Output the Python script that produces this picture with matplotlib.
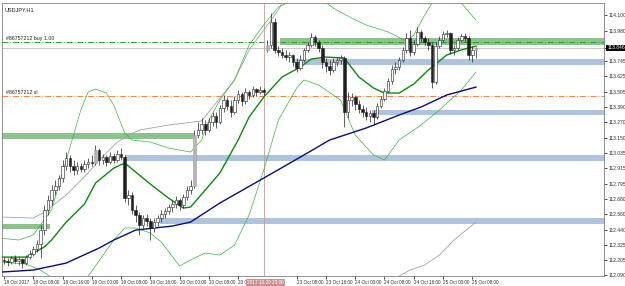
import numpy as np
import matplotlib
matplotlib.use('Agg')
import matplotlib.pyplot as plt

plt.rcParams['font.family'] = ['Liberation Sans Narrow', 'Liberation Sans', 'DejaVu Sans']

# hourly bars, 18 Oct 00:00 .. 25 Oct 09:00 (weekend skipped)
opens = [112.206,112.199,112.191,112.222,112.199,112.214,112.183,112.229,112.253,112.291,
         112.330,112.438,112.593,112.670,112.747,112.778,112.840,112.933,112.995,112.933,
         112.902,112.933,112.910,112.948,112.964,112.956,113.057,112.979,113.002,112.964,
         113.010,112.979,113.026,113.002,112.685,112.709,112.593,112.554,112.477,112.531,
         112.508,112.454,112.500,112.531,112.562,112.585,112.616,112.639,112.670,112.631,
         112.693,112.747,112.778,113.172,113.211,113.258,113.211,113.273,113.319,113.273,
         113.381,113.443,113.397,113.350,113.443,113.489,113.435,113.505,113.482,113.528,
         113.505,113.520,113.830,113.868,114.046,113.830,113.814,113.791,113.775,113.791,
         113.737,113.690,113.752,113.830,113.868,113.930,113.891,113.845,113.737,113.706,
         113.675,113.737,113.752,113.768,113.350,113.443,113.466,113.412,113.373,113.350,
         113.319,113.343,113.312,113.397,113.451,113.513,113.590,113.683,113.698,113.752,
         113.830,113.922,113.814,113.876,113.969,113.922,113.891,113.868,113.582,113.860,
         113.907,113.953,113.961,113.830,113.845,113.907,113.938,113.922,113.791,113.830]
highs = [112.229,112.222,112.237,112.245,112.229,112.222,112.245,112.284,112.314,112.361,
         112.477,112.631,112.709,112.786,112.825,112.863,112.979,113.041,113.018,112.979,
         112.964,112.956,112.979,112.995,113.018,113.095,113.072,113.026,113.018,113.041,
         113.033,113.057,113.072,113.018,112.747,112.732,112.631,112.577,112.554,112.562,
         112.531,112.531,112.554,112.593,112.608,112.639,112.670,112.701,112.685,112.716,
         112.778,112.825,113.211,113.273,113.304,113.288,113.304,113.350,113.350,113.404,
         113.482,113.466,113.443,113.474,113.520,113.505,113.536,113.520,113.551,113.536,
         113.551,113.536,113.907,114.116,114.077,113.860,113.845,113.830,113.814,113.799,
         113.768,113.791,113.845,113.891,113.961,113.945,113.907,113.868,113.768,113.752,
         113.768,113.775,113.791,113.783,113.505,113.497,113.482,113.443,113.404,113.389,
         113.366,113.366,113.420,113.474,113.536,113.613,113.714,113.737,113.775,113.853,
         113.961,113.984,113.907,114.007,113.984,113.938,113.922,113.891,113.891,113.938,
         113.976,113.984,113.969,113.868,113.930,113.953,113.961,113.938,113.860,113.853]
lows = [112.175,112.160,112.175,112.183,112.168,112.144,112.168,112.214,112.237,112.268,
        112.222,112.400,112.554,112.631,112.709,112.747,112.809,112.902,112.886,112.863,
        112.871,112.886,112.886,112.917,112.933,112.941,112.941,112.948,112.933,112.948,
        112.956,112.964,112.979,112.655,112.631,112.562,112.500,112.400,112.454,112.469,
        112.361,112.423,112.469,112.500,112.531,112.562,112.577,112.608,112.593,112.608,
        112.670,112.716,112.763,113.149,113.180,113.172,113.196,113.242,113.227,113.258,
        113.350,113.366,113.312,113.335,113.420,113.397,113.412,113.451,113.466,113.474,
        113.489,113.482,113.814,113.845,113.806,113.783,113.768,113.752,113.737,113.706,
        113.659,113.675,113.737,113.814,113.853,113.860,113.814,113.690,113.659,113.636,
        113.659,113.706,113.721,113.234,113.304,113.397,113.366,113.343,113.312,113.288,
        113.273,113.250,113.296,113.381,113.435,113.497,113.567,113.644,113.675,113.737,
        113.806,113.783,113.791,113.860,113.891,113.868,113.830,113.536,113.567,113.845,
        113.891,113.930,113.799,113.791,113.830,113.891,113.891,113.752,113.737,113.768]
closes = [112.199,112.191,112.222,112.199,112.214,112.183,112.229,112.253,112.291,112.330,
          112.438,112.593,112.670,112.747,112.778,112.840,112.933,112.995,112.933,112.902,
          112.933,112.910,112.948,112.964,112.956,113.057,112.979,113.002,112.964,113.010,
          112.979,113.026,113.002,112.685,112.709,112.593,112.554,112.477,112.531,112.508,
          112.454,112.500,112.531,112.562,112.585,112.616,112.639,112.670,112.631,112.693,
          112.747,112.778,113.172,113.211,113.258,113.211,113.273,113.319,113.273,113.381,
          113.443,113.397,113.350,113.443,113.489,113.435,113.505,113.482,113.528,113.505,
          113.520,113.505,113.868,114.046,113.830,113.814,113.791,113.775,113.791,113.737,
          113.690,113.752,113.830,113.868,113.930,113.891,113.845,113.737,113.706,113.675,
          113.737,113.752,113.768,113.350,113.443,113.466,113.412,113.373,113.350,113.319,
          113.343,113.312,113.397,113.451,113.513,113.590,113.683,113.698,113.752,113.830,
          113.922,113.814,113.876,113.969,113.922,113.891,113.868,113.582,113.860,113.907,
          113.953,113.961,113.830,113.845,113.907,113.938,113.922,113.791,113.830,113.846]
gray_bars = [25, 52, 72, 129]

# indicator lines (bar index, price)
ma_slow_idx = [-1, 8, 17, 26, 30, 36, 46, 51, 59, 71, 81, 89, 99, 108, 114, 121, 129]
ma_slow_val = [112.113, 112.129, 112.183, 112.299, 112.361, 112.438, 112.469, 112.500, 112.647,
               112.840, 113.002, 113.134, 113.227, 113.327, 113.389, 113.482, 113.543]
bb_mid_idx = [-1, 6, 8, 11, 13, 17, 22, 25, 30, 33, 37, 41, 45, 49, 51, 55, 59, 64, 67, 71,
              76, 81, 84, 88, 93, 97, 101, 104, 108, 112, 116, 121, 125, 129]
bb_mid_val = [112.229, 112.229, 112.260, 112.307, 112.361, 112.500, 112.639, 112.801, 112.917,
              112.956, 112.863, 112.771, 112.685, 112.608, 112.616, 112.747, 112.879, 113.134,
              113.312, 113.466, 113.621, 113.698, 113.760, 113.775, 113.768, 113.621, 113.536,
              113.497, 113.497, 113.567, 113.675, 113.791, 113.830, 113.860]
bb_up_idx = [-1, 4, 8, 13, 17, 21, 23, 25, 28, 30, 33, 35, 40, 45, 51, 54, 56, 59, 63, 67, 71,
             75, 78, 81, 86, 90, 95, 99, 105, 110, 112, 115, 117, 121, 125, 129]
bb_up_val = [112.376, 112.361, 112.400, 112.593, 112.979, 113.366, 113.505, 113.528, 113.497,
             113.404, 113.188, 113.134, 113.118, 113.072, 113.041, 113.134, 113.288, 113.443,
             113.598, 113.868, 114.023, 114.162, 114.201, 114.239, 114.239, 114.154, 114.077,
             114.023, 113.969, 113.899, 113.945, 114.100, 114.193, 114.216, 114.193, 114.061]
bb_lo_idx = [-1, 6, 10, 14, 19, 23, 30, 33, 36, 40, 43, 48, 52, 55, 59, 63, 67, 71, 75, 80,
             82, 86, 92, 96, 101, 104, 108, 114, 119, 125, 129]
bb_lo_val = [112.191, 112.175, 112.129, 112.052, 112.013, 112.082, 112.361, 112.454, 112.454,
             112.415, 112.345, 112.160, 112.222, 112.260, 112.245, 112.322, 112.554, 112.902,
             113.288, 113.536, 113.598, 113.559, 113.443, 113.172, 113.018, 112.979, 113.134,
             113.250, 113.366, 113.520, 113.659]
gray_up_idx = [-1, 8, 11, 17, 23, 26, 31, 34, 37, 45, 54, 63, 67, 71, 75, 78]
gray_up_val = [112.539, 112.531, 112.577, 112.709, 112.879, 112.979, 113.118, 113.172, 113.211,
               113.250, 113.281, 113.598, 113.830, 113.984, 114.139, 114.293]
gray_lo_idx = [107, 111, 115, 119, 123, 129]
gray_lo_val = [112.067, 112.129, 112.168, 112.245, 112.361, 112.500]

# zones: (low, high, from bar, to bar, kind)
zone_lo = [113.868, 113.714, 113.327, 113.141, 112.971, 112.484, 112.446]
zone_hi = [113.922, 113.760, 113.366, 113.188, 113.018, 112.531, 112.484]
zone_from = [75.4, 79.5, 100.5, -1, 33, 42.6, -1]
zone_to = [170, 170, 170, 52, 170, 170, 12.6]
zone_kind = ['g', 'b', 'b', 'g', 'b', 'b', 'g']

buy_price = 113.891
sl_price = 113.474
bid = 113.846
sep_bar = 71

ytick_vals = [114.100, 113.980, 113.846, 113.745, 113.625, 113.505, 113.390, 113.270, 113.150,
              113.035, 112.915, 112.795, 112.680, 112.560, 112.440, 112.325, 112.205, 112.090]
xtick_idx = [0, 8, 16, 24, 32, 40, 48, 56, 64, 80, 88, 96, 104, 112, 120, 128]
xtick_lab = ['18 Oct 2017', '18 Oct 08:00', '18 Oct 16:00', '19 Oct 00:00', '19 Oct 08:00',
             '19 Oct 16:00', '20 Oct 00:00', '20 Oct 08:00', '20 Oct 16:00',
             '23 Oct 08:00', '23 Oct 16:00', '24 Oct 00:00', '24 Oct 08:00', '24 Oct 16:00',
             '25 Oct 00:00', '25 Oct 08:00']

fig = plt.figure(figsize=(6.25, 2.86), dpi=100)
ax = fig.add_axes([2/625., 10/286., 602/625., 273/286.])
xmin, xmax = -0.55, 164.0
ax.set_xlim(xmin, xmax)
ax.set_ylim(112.083, 114.193)

zcol = {'g': '#8cc28c', 'b': '#aec3de'}
for lo, hi, a, b, k in zip(zone_lo, zone_hi, zone_from, zone_to, zone_kind):
    ax.fill_between([a, b], lo, hi, color=zcol[k], lw=0, zorder=1)

ax.axhline(buy_price, color='#2ca02c', lw=0.7, ls=(0, (6, 2, 1, 2)), zorder=2)
ax.axhline(sl_price, color='#ff7f3f', lw=0.7, ls=(0, (6, 2, 1, 2)), zorder=2)
ax.axhline(bid, color='#c0c0c0', lw=0.6, zorder=2)
ax.axvline(sep_bar, color='#d89090', lw=0.6, zorder=2)

ax.plot(gray_up_idx, gray_up_val, color='#9aa5a0', lw=0.6, zorder=3)
ax.plot(gray_lo_idx, gray_lo_val, color='#9aa5a0', lw=0.6, zorder=3)
ax.plot(bb_up_idx, bb_up_val, color='#3cb43c', lw=0.5, zorder=3)
ax.plot(bb_lo_idx, bb_lo_val, color='#3cb43c', lw=0.5, zorder=3)
ax.plot(bb_mid_idx, bb_mid_val, color='#0a8a0a', lw=1.0, zorder=3)
ax.plot(ma_slow_idx, ma_slow_val, color='#0c0c80', lw=1.0, zorder=3)

o = np.array(opens); h = np.array(highs); l = np.array(lows); c = np.array(closes)
idx = np.arange(len(o))
ax.vlines(idx, l, h, color='#202020', lw=0.5, zorder=4)
up = c >= o
body_lo = np.minimum(o, c)
body_h = np.maximum(np.abs(c - o), 0.002)
fill = np.where(up, 'white', '#202020').astype(object)
edge = np.array(['#202020'] * len(o), dtype=object)
for g in gray_bars:
    fill[g] = '#b4b4b4'
    edge[g] = '#a0a0a0'
ax.bar(idx, body_h, bottom=body_lo, width=0.7, color=list(fill),
       edgecolor=list(edge), lw=0.4, zorder=5)

ax.yaxis.tick_right()
ax.set_yticks(ytick_vals)
ylabs = ['%.3f' % v for v in ytick_vals]
ylabs[ytick_vals.index(bid)] = ''
ax.set_yticklabels(ylabs, fontsize=3.6, color='#303030')
ax.tick_params(axis='y', length=2, width=0.5, pad=1)
ax.set_xticks(xtick_idx)
ax.set_xticklabels(xtick_lab, fontsize=3.3, color='#303030', ha='left')
ax.tick_params(axis='x', length=2, width=0.5, pad=1)
for s in ax.spines.values():
    s.set_color('#808080')
    s.set_linewidth(0.6)

ax.text(sep_bar - 4.5, 112.083 - 0.033, '2017.10.20 23:00', fontsize=3.4, color='#ffffff',
        va='top', ha='left', zorder=10, clip_on=False,
        bbox=dict(facecolor='#d09090', edgecolor='none', pad=0.7))
ax.text(xmax + 0.9, bid, '%.3f' % bid, fontsize=3.6, color='white', va='center', ha='left',
        zorder=10, clip_on=False, bbox=dict(facecolor='black', edgecolor='none', pad=0.6))

ax.text(0.005, 0.985, 'USDJPY,H1', transform=ax.transAxes, fontsize=4, va='top', color='#202020')
ax.text(0.5, buy_price + 0.006, '#86757212 buy 1.00', fontsize=3.8, va='bottom', color='#202020')
ax.text(0.5, sl_price + 0.006, '#86757212 sl', fontsize=3.8, va='bottom', color='#202020')

fig.savefig('out.png', dpi=100, facecolor='white')
